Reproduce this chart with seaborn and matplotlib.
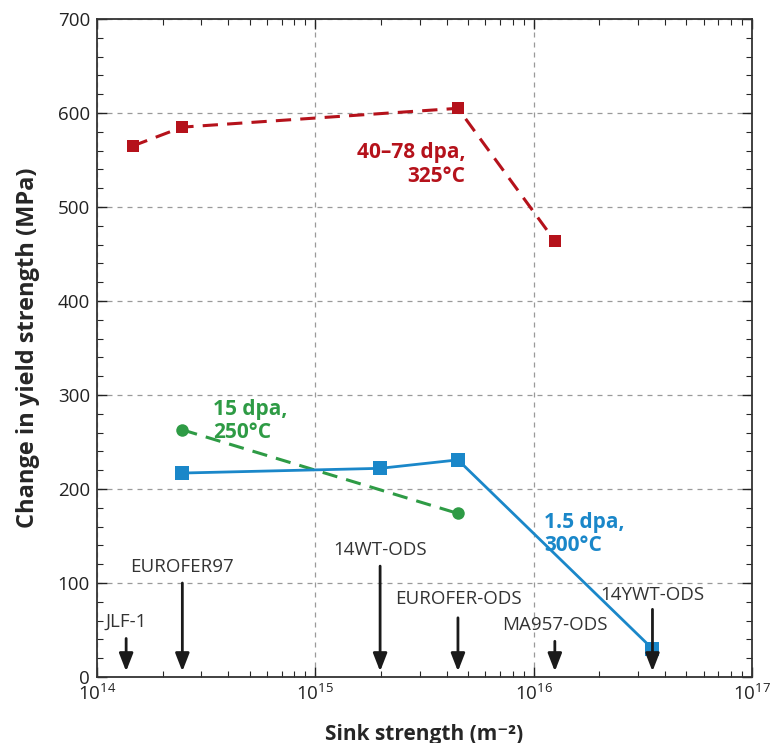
import matplotlib
matplotlib.use("Agg")
import matplotlib.pyplot as plt
import seaborn as sns
import pandas as pd
import numpy as np
from matplotlib.ticker import MultipleLocator, LogLocator, NullFormatter

sns.set_theme(style="white")
plt.rcParams['font.family'] = ['Open Sans', 'DejaVu Sans']

red_x = [1.46e14, 2.46e14, 4.5e15, 1.25e16]
red_y = [565, 585, 605, 464]
blue_x = [2.46e14, 1.98e15, 4.5e15, 3.5e16]
blue_y = [217, 222, 231, 30]
green_x = [2.46e14, 4.5e15]
green_y = [263, 174]

alloy_names = ["JLF-1", "EUROFER97", "14WT-ODS", "EUROFER-ODS", "MA957-ODS", "14YWT-ODS"]
alloy_x = [1.36e14, 2.46e14, 1.98e15, 4.5e15, 1.25e16, 3.5e16]
arrow_top = [41, 100, 118, 63, 38, 72]

RED = "#B5121B"
BLUE = "#1A87C9"
GREEN = "#2E9B45"

fig = plt.figure(figsize=(7.74, 7.43), dpi=100)
ax = fig.add_axes([0.1253, 0.0888, 0.8463, 0.8856])

df_red = pd.DataFrame({"x": red_x, "y": red_y})
df_blue = pd.DataFrame({"x": blue_x, "y": blue_y})
df_green = pd.DataFrame({"x": green_x, "y": green_y})

ax.set_xscale("log")
sns.lineplot(data=df_red, x="x", y="y", ax=ax, color=RED, marker="s", markersize=9,
             markeredgewidth=0, linewidth=2.2, linestyle=(0, (5, 3)), zorder=4)
sns.lineplot(data=df_green, x="x", y="y", ax=ax, color=GREEN, marker="o", markersize=9,
             markeredgewidth=0, linewidth=2.2, linestyle=(0, (5, 3)), zorder=4)
sns.lineplot(data=df_blue, x="x", y="y", ax=ax, color=BLUE, marker="s", markersize=10,
             markeredgewidth=0, linewidth=2.0, zorder=4)

# arrows for alloys
label_gap = {"JLF-1": 8, "EUROFER97": 8, "14WT-ODS": 8, "EUROFER-ODS": 10,
             "MA957-ODS": 8, "14YWT-ODS": 6}
for name, xv, top in zip(alloy_names, alloy_x, arrow_top):
    ax.annotate("", xy=(xv, 6), xytext=(xv, top),
                arrowprops=dict(arrowstyle="-|>,head_length=0.9,head_width=0.35",
                                color="#1a1a1a", lw=2.0, shrinkA=0, shrinkB=0), zorder=5)
    ax.text(xv, top + label_gap[name], name, ha="center", va="bottom",
            fontsize=13.5, color="#333333", zorder=5)

ax.text(4.85e15, 569, "40–78 dpa,\n325°C", color=RED, fontsize=15, fontweight="bold",
        ha="right", va="top", linespacing=1.15)
ax.text(3.4e14, 296, "15 dpa,\n250°C", color=GREEN, fontsize=15, fontweight="bold",
        ha="left", va="top", linespacing=1.15)
ax.text(1.12e16, 176, "1.5 dpa,\n300°C", color=BLUE, fontsize=15, fontweight="bold",
        ha="left", va="top", linespacing=1.15)

ax.set_xlim(1e14, 1e17)
ax.set_ylim(0, 700)
ax.yaxis.set_major_locator(MultipleLocator(100))
ax.yaxis.set_minor_locator(MultipleLocator(20))
ax.xaxis.set_major_locator(LogLocator(base=10, numticks=10))
ax.xaxis.set_minor_locator(LogLocator(base=10, subs=np.arange(2, 10), numticks=20))
ax.xaxis.set_minor_formatter(NullFormatter())

ax.grid(True, which="major", linestyle=(0, (4, 4)), color="#9a9a9a", linewidth=0.9)
ax.set_axisbelow(True)

ax.tick_params(axis="both", which="major", direction="in", length=7, width=1,
               top=True, right=True, labelsize=13.5, colors="#222222", pad=5)
ax.tick_params(axis="both", which="minor", direction="in", length=4, width=0.8,
               top=True, right=True)
ax.tick_params(axis="both", which="both", bottom=True, left=True)
for sp in ax.spines.values():
    sp.set_color("#333333")
    sp.set_linewidth(1.3)

ax.set_xlabel("Sink strength (m⁻²)", fontsize=15, fontweight="bold", labelpad=14)
ax.set_ylabel("Change in yield strength (MPa)", fontsize=17, fontweight="bold", labelpad=13)

fig.savefig("out.png", dpi=100)
